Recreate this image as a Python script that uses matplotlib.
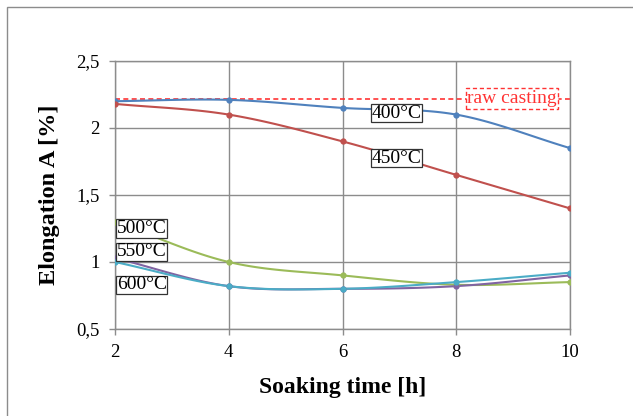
import numpy as np
import matplotlib
matplotlib.use("Agg")
import matplotlib.pyplot as plt
from matplotlib.patches import Rectangle
from matplotlib.ticker import FuncFormatter

plt.rcParams["font.family"] = ["Liberation Serif", "DejaVu Serif"]

# data
time_h = [2, 4, 6, 8, 10]
elong_400 = [2.20, 2.21, 2.15, 2.10, 1.85]
elong_450 = [2.18, 2.10, 1.90, 1.65, 1.40]
elong_500 = [1.30, 1.00, 0.90, 0.83, 0.85]
elong_550 = [1.03, 0.82, 0.80, 0.82, 0.90]
elong_600 = [1.00, 0.82, 0.80, 0.85, 0.92]
raw_casting = 2.22

series = [
    ("400°C", elong_400, "#4F81BD"),
    ("450°C", elong_450, "#C0504D"),
    ("500°C", elong_500, "#9BBB59"),
    ("550°C", elong_550, "#8064A2"),
    ("600°C", elong_600, "#4BACC6"),
]
# label box positions (data coords)
label_pos = {
    "400°C": (6.95, 2.11),
    "450°C": (6.95, 1.775),
    "500°C": (2.47, 1.25),
    "550°C": (2.47, 1.075),
    "600°C": (2.47, 0.83),
}


def smooth(x, y, n=30):
    """Catmull-Rom kurve, wie die geglaetteten Linien in Excel"""
    x = np.asarray(x, float)
    y = np.asarray(y, float)
    px = np.concatenate([[2 * x[0] - x[1]], x, [2 * x[-1] - x[-2]]])
    py = np.concatenate([[2 * y[0] - y[1]], y, [2 * y[-1] - y[-2]]])
    xs, ys = [], []
    t = np.linspace(0, 1, n)
    for i in range(1, len(px) - 2):
        for p, out in ((px, xs), (py, ys)):
            p0, p1, p2, p3 = p[i - 1], p[i], p[i + 1], p[i + 2]
            out.append(0.5 * (2 * p1 + (-p0 + p2) * t
                              + (2 * p0 - 5 * p1 + 4 * p2 - p3) * t ** 2
                              + (-p0 + 3 * p1 - 3 * p2 + p3) * t ** 3))
    return np.concatenate(xs), np.concatenate(ys)


fig = plt.figure(figsize=(6.33, 4.16), dpi=100)
fig.patches.append(Rectangle((7 / 633, -0.1), 1.2, 1.1 - 7 / 416,
                             transform=fig.transFigure, fill=False,
                             edgecolor="#8c8c8c", linewidth=1.0))
ax = fig.add_axes([115 / 633, 1 - 329 / 416, 455 / 633, 268 / 416])

ax.axhline(raw_casting, color="#FF3333", linestyle=(0, (3, 2)), linewidth=1.2, zorder=2)

for name, vals, col in series:
    sx, sy = smooth(time_h, vals)
    ax.plot(sx, sy, color=col, linewidth=1.5, zorder=3)
    ax.plot(time_h, vals, "o", color=col, markersize=3.5, zorder=4)
    lx, ly = label_pos[name]
    ax.text(lx, ly, name, fontsize=14, ha="center", va="center", zorder=5,
            bbox=dict(boxstyle="square,pad=0.03", facecolor="white",
                      edgecolor="#333333", linewidth=0.9))

ax.text(8.98, 2.22, "raw casting", fontsize=14, color="#FF3333",
        ha="center", va="center", zorder=5,
        bbox=dict(boxstyle="square,pad=0.08", facecolor="white",
                  edgecolor="#FF3333", linewidth=1.0, linestyle=(0, (3, 2))))

ax.set_xlim(2, 10)
ax.set_ylim(0.5, 2.5)
ax.set_xticks(time_h)
ax.set_yticks([0.5, 1.0, 1.5, 2.0, 2.5])
ax.yaxis.set_major_formatter(FuncFormatter(lambda v, p: f"{v:g}".replace(".", ",")))
ax.grid(True, color="#8c8c8c", linewidth=1.0)
ax.set_axisbelow(True)
for s in ax.spines.values():
    s.set_color("#8c8c8c")
    s.set_linewidth(1.0)
ax.tick_params(axis="both", colors="#8c8c8c", labelcolor="black", labelsize=13.5,
               length=4, width=1.0)
ax.tick_params(axis="y", pad=7)
ax.tick_params(axis="x", pad=7)

ax.set_xlabel("Soaking time [h]", fontsize=17, fontweight="bold", labelpad=11)
ax.set_ylabel("Elongation A [%]", fontsize=17.5, fontweight="bold", labelpad=12)

plt.savefig("out.png", dpi=100)
